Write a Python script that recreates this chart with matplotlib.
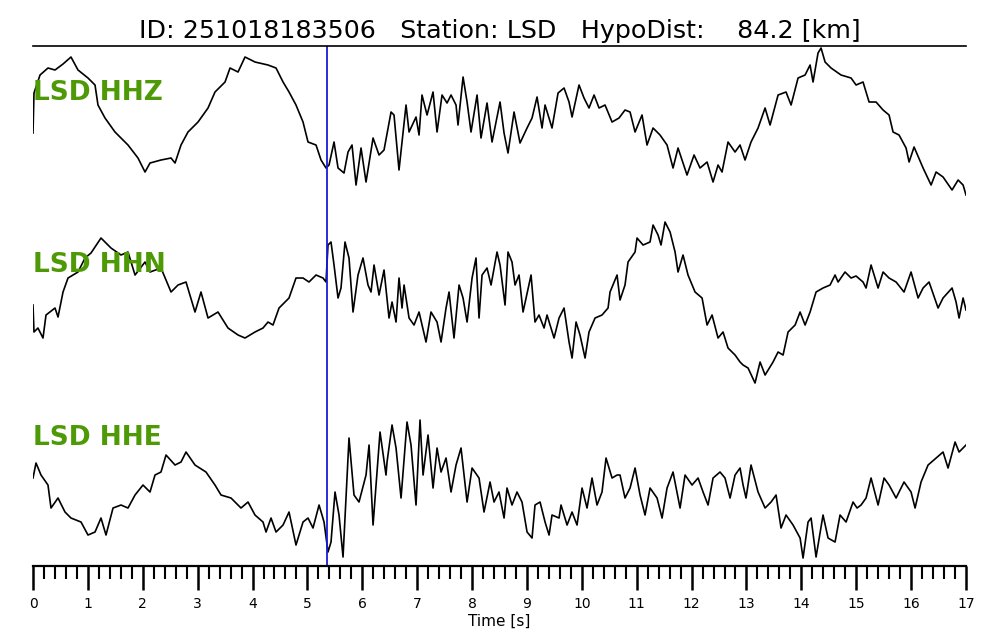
"""
Three-component waveform plot, station LSD
"""

import numpy as np
import matplotlib
matplotlib.use("Agg")
from matplotlib import pyplot as plt
from matplotlib.ticker import MultipleLocator

event_id = "251018183506"
station = "LSD"
hypo_dist = 84.2    # km
channels = ["HHZ", "HHN", "HHE"]
p_pick = 5.36   # P arrival, s
duration = 17   # s

hhz = [(0.0, -11), (0.018, 29), (0.128, 47), (0.273, 54), (0.401, 52), (0.547, 58), (0.692, 65), (0.82, 52),
       (1.002, 44), (1.13, 37), (1.184, 17), (1.312, 4), (1.494, -10), (1.731, -23), (1.913, -36), (2.041, -50),
       (2.132, -41), (2.332, -38), (2.515, -36), (2.588, -41), (2.697, -23), (2.824, -10), (3.007, 0), (3.189, 14),
       (3.316, 30), (3.499, 40), (3.59, 54), (3.736, 50), (3.863, 65), (4.045, 60), (4.282, 57), (4.428, 54),
       (4.556, 40), (4.665, 30), (4.792, 17), (4.92, 0), (5.011, -20), (5.157, -23), (5.248, -38), (5.339, -46),
       (5.394, -43), (5.485, -20), (5.558, -46), (5.667, -51), (5.74, -30), (5.813, -23), (5.886, -63), (5.977, -26),
       (6.068, -60), (6.196, -16), (6.305, -33), (6.396, -28), (6.524, 10), (6.578, 7), (6.669, -48), (6.797, 17),
       (6.852, -10), (6.979, 5), (7.034, -13), (7.088, 27), (7.18, 7), (7.289, 30), (7.362, -10), (7.453, 27),
       (7.544, 19), (7.617, 27), (7.708, 17), (7.744, -3), (7.836, 45), (7.909, 20), (7.981, -10), (8.091, 27),
       (8.163, -16), (8.273, 19), (8.364, -20), (8.51, 20), (8.583, -11), (8.655, -31), (8.765, 10), (8.874, -21),
       (9.002, -6), (9.093, 4), (9.184, 25), (9.275, -6), (9.33, 17), (9.457, -6), (9.567, 29), (9.676, 34),
       (9.767, 20), (9.822, 5), (9.949, 37), (10.04, 24), (10.131, 14), (10.223, 27), (10.314, 14), (10.423, 17),
       (10.551, 0), (10.678, 4), (10.787, 12), (10.879, 10), (10.97, -10), (11.097, 7), (11.188, -23), (11.298, -6),
       (11.425, -13), (11.553, -23), (11.662, -46), (11.753, -26), (11.917, -53), (12.045, -33), (12.154, -46),
       (12.282, -40), (12.391, -60), (12.482, -43), (12.555, -50), (12.664, -20), (12.792, -30), (12.883, -23),
       (12.974, -38), (13.083, -20), (13.211, -6), (13.339, 14), (13.43, -3), (13.576, 27), (13.721, 30),
       (13.813, 17), (13.94, 44), (14.068, 47), (14.159, 57), (14.213, 40), (14.304, 69), (14.359, 74), (14.432, 60),
       (14.541, 54), (14.723, 47), (14.906, 44), (14.997, 37), (15.124, 40), (15.234, 20), (15.361, 20), (15.489, 12),
       (15.598, 7), (15.671, -10), (15.78, -13), (15.908, -26), (15.963, -40), (16.054, -25), (16.218, -46),
       (16.364, -63), (16.455, -50), (16.582, -55), (16.746, -68), (16.856, -58), (16.947, -63), (17.0, -73)]

hhn = [(0.0, 1), (0.018, -26), (0.09, -22), (0.182, -32), (0.237, -9), (0.401, -2), (0.456, -11), (0.547, 14),
       (0.638, 28), (0.82, 34), (0.948, 48), (1.057, 53), (1.239, 68), (1.421, 58), (1.604, 51), (1.731, 54),
       (1.859, 31), (2.041, 44), (2.132, 34), (2.332, 38), (2.515, 14), (2.642, 21), (2.788, 24), (2.952, -6),
       (3.061, 14), (3.189, -12), (3.371, -6), (3.553, -22), (3.736, -29), (3.863, -32), (4.045, -26), (4.191, -22),
       (4.282, -16), (4.373, -19), (4.483, -2), (4.665, 8), (4.792, 28), (4.92, 28), (5.029, 24), (5.157, 31),
       (5.284, 28), (5.339, 24), (5.375, 61), (5.43, 64), (5.485, 41), (5.558, 8), (5.612, 18), (5.685, 64),
       (5.758, 48), (5.831, -6), (5.922, 31), (6.013, 48), (6.104, 21), (6.159, 14), (6.214, 41), (6.305, 11),
       (6.396, 36), (6.487, -12), (6.542, 4), (6.615, -16), (6.669, 28), (6.724, -2), (6.761, 21), (6.852, -12),
       (6.943, -19), (7.034, -6), (7.161, -36), (7.252, -6), (7.362, -16), (7.435, -36), (7.526, -2), (7.581, 14),
       (7.671, -32), (7.763, 21), (7.836, 8), (7.909, -16), (8.0, 28), (8.072, 48), (8.127, -12), (8.182, 31),
       (8.273, 38), (8.346, 21), (8.455, 54), (8.51, 41), (8.601, 1), (8.655, 54), (8.728, 44), (8.783, 21),
       (8.856, 31), (8.929, -6), (9.075, 31), (9.147, -16), (9.22, -9), (9.312, -22), (9.366, -9), (9.494, -32),
       (9.585, -12), (9.676, -2), (9.767, -36), (9.822, -52), (9.895, -16), (9.967, -29), (10.059, -52),
       (10.131, -26), (10.241, -12), (10.368, -9), (10.478, -2), (10.514, 14), (10.642, 31), (10.696, 6),
       (10.787, 21), (10.842, 44), (10.97, 54), (11.006, 68), (11.116, 61), (11.243, 64), (11.298, 81), (11.389, 71),
       (11.443, 61), (11.516, 84), (11.608, 74), (11.699, 54), (11.753, 34), (11.844, 51), (11.935, 31),
       (12.063, 14), (12.191, 8), (12.282, -19), (12.373, -9), (12.482, -32), (12.573, -26), (12.664, -42),
       (12.792, -49), (12.883, -56), (12.938, -59), (13.029, -62), (13.156, -77), (13.248, -56), (13.339, -69),
       (13.484, -56), (13.576, -46), (13.667, -49), (13.758, -26), (13.886, -19), (13.977, -6), (14.068, -19),
       (14.159, -6), (14.268, 14), (14.395, 18), (14.523, 21), (14.614, 31), (14.669, 24), (14.796, 34),
       (14.906, 28), (14.997, 30), (15.124, 24), (15.179, 18), (15.27, 41), (15.398, 18), (15.489, 34), (15.598, 28),
       (15.726, 24), (15.871, 14), (15.999, 34), (16.127, 8), (16.218, 18), (16.327, 24), (16.491, -2), (16.582, 8),
       (16.746, 18), (16.819, 4), (16.874, -12), (16.947, 8), (17.0, -4)]

hhe = [(0.0, 12), (0.055, 27), (0.146, 15), (0.273, 5), (0.328, -18), (0.456, -8), (0.583, -22), (0.692, -28),
       (0.875, -32), (1.002, -45), (1.13, -42), (1.239, -28), (1.33, -45), (1.458, -18), (1.604, -15), (1.731, -18),
       (1.859, -5), (2.004, 5), (2.132, -2), (2.223, 15), (2.332, 18), (2.424, 35), (2.588, 25), (2.697, 28),
       (2.788, 38), (2.952, 25), (3.152, 18), (3.316, 5), (3.426, -5), (3.608, -8), (3.79, -18), (3.918, -12),
       (4.045, -25), (4.191, -32), (4.246, -42), (4.337, -28), (4.428, -42), (4.556, -35), (4.665, -22),
       (4.792, -55), (4.92, -32), (5.011, -28), (5.102, -38), (5.212, -15), (5.303, -32), (5.375, -62), (5.43, -52),
       (5.503, -2), (5.576, -25), (5.649, -67), (5.758, 52), (5.849, -5), (5.94, -12), (6.068, 15), (6.123, 45),
       (6.196, -35), (6.323, 58), (6.432, 15), (6.451, 28), (6.542, 65), (6.615, 42), (6.706, -8), (6.815, 68),
       (6.888, 45), (6.979, -15), (7.052, 70), (7.107, 15), (7.198, 55), (7.289, 2), (7.362, 42), (7.435, 18),
       (7.526, 32), (7.617, -2), (7.708, 25), (7.799, 42), (7.909, -12), (8.0, 22), (8.127, 12), (8.218, -22),
       (8.328, 8), (8.4, -12), (8.491, -2), (8.583, -28), (8.637, 2), (8.728, -15), (8.819, -2), (8.91, -12),
       (9.002, -42), (9.093, -48), (9.147, -15), (9.239, -12), (9.33, -32), (9.403, -45), (9.457, -25), (9.585, -28),
       (9.621, -15), (9.731, -35), (9.822, -22), (9.913, -35), (10.004, 2), (10.095, -18), (10.186, 12),
       (10.277, -15), (10.368, -2), (10.441, 32), (10.551, 12), (10.642, 15), (10.696, 15), (10.787, -8),
       (10.879, 2), (10.97, 22), (11.061, -5), (11.152, -25), (11.243, 2), (11.371, -8), (11.462, -28), (11.553, 2),
       (11.662, 18), (11.79, -18), (11.881, 15), (12.008, 5), (12.118, 12), (12.209, -2), (12.3, -15), (12.391, 12),
       (12.518, 18), (12.609, 12), (12.701, -8), (12.792, 15), (12.883, 22), (12.938, 5), (12.992, -8),
       (13.083, 25), (13.211, -2), (13.339, -18), (13.448, -12), (13.539, -5), (13.63, -38), (13.721, -25),
       (13.849, -35), (13.977, -48), (14.031, -68), (14.122, -32), (14.177, -28), (14.268, -67), (14.395, -25),
       (14.487, -48), (14.614, -52), (14.705, -25), (14.815, -32), (14.942, -12), (15.015, -18), (15.088, -15),
       (15.179, -8), (15.27, 12), (15.398, -15), (15.507, 12), (15.598, 5), (15.726, -8), (15.871, 8), (15.999, -2),
       (16.072, -18), (16.181, 8), (16.309, 25), (16.455, 32), (16.582, 38), (16.673, 22), (16.801, 48),
       (16.874, 38), (17.0, 45)]

spacing = 184.  # counts between trace baselines
label_colour = "#4e9a06"

fig = plt.figure(figsize=(10, 6.4), dpi=100)
ax = fig.add_axes([0.033, 0.1156, 0.933, 0.8125])

for i, (chan, trace) in enumerate(zip(channels, [hhz, hhn, hhe])):
    offset = len(channels) - 1 - i
    t, a = np.array(trace, dtype=float).T
    y = offset + a / spacing
    ax.plot(t, y, color="k", lw=1.2)
    ax.text(0, y[0] + 0.22, f"{station} {chan}", color=label_colour,
            fontsize=19, fontweight="bold", ha="left", va="center")

ax.axvline(p_pick, color="#1a1adc", lw=1.3)

ax.set_xlim(0, duration)
ax.set_ylim(-0.413, 2.413)
ax.set_yticks([])
ax.xaxis.set_major_locator(MultipleLocator(1))
ax.xaxis.set_minor_locator(MultipleLocator(0.2))
ax.tick_params(axis="x", which="major", length=17, width=1.8, labelsize=10, pad=5)
ax.tick_params(axis="x", which="minor", length=9, width=1.5)
for side in ["left", "right"]:
    ax.spines[side].set_visible(False)
ax.spines["bottom"].set_linewidth(1.6)
ax.spines["top"].set_linewidth(1.2)
ax.set_xlabel("Time [s]", fontsize=11, labelpad=2)
ax.set_title(f"ID: {event_id}   Station: {station}   HypoDist:    {hypo_dist:.1f} [km]",
             fontsize=18.3, pad=6)

fig.savefig("out.png", dpi=100)
